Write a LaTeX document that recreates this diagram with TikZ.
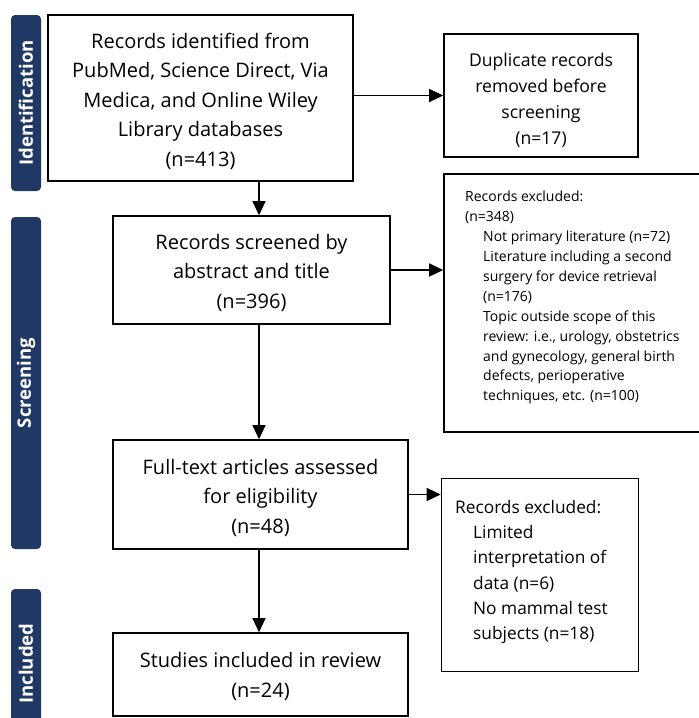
\documentclass[tikz,border=0pt]{standalone}
\usepackage{fontspec}
\setmainfont{Open Sans}
\usetikzlibrary{arrows.meta}
\definecolor{navy}{HTML}{1F3864}
\newcommand{\lowtext}[2]{\raisebox{-#1}[\height][\depth]{\begin{tabular}{@{}c@{}}#2\end{tabular}}}
\begin{document}
\begin{tikzpicture}[x=1pt,y=-1pt,
  box/.style={draw=black, line width=1.6pt, inner sep=0pt, align=center},
  bigfont/.style={font=\fontsize{20}{29.5}\selectfont},
  midfont/.style={font=\fontsize{17.6}{26}\selectfont},
  side/.style={fill=navy, rounded corners=4pt, inner sep=0pt, rotate=90, text=white,
     font=\bfseries\fontsize{18.5}{20}\selectfont},
  conn/.style={line width=1.2pt, -{Triangle[length=14pt,width=13pt]}},
]
\useasboundingbox (0,0) rectangle (699,718);
% side bars
\node[side, minimum width=176pt, minimum height=30pt] (sid1) at (26,103) {Identification};
\node[side, minimum width=332pt, minimum height=30pt] (sid2) at (26,383) {Screening};
\node[side, minimum width=149pt, minimum height=30pt] (sid3) at (26,663.5) {Included};
% main boxes
\node[box, bigfont, minimum width=305pt, minimum height=166pt] (b1) at (200.5,98)
  {\lowtext{3.5pt}{Records identified from\\PubMed, Science Direct, Via\\Medica, and Online Wiley\\Library databases\\(n=413)}};
\node[box, midfont, minimum width=194pt, minimum height=123pt] (dup) at (541,95.5)
  {\lowtext{5pt}{Duplicate records\\removed before\\screening\\(n=17)}};
\node[box, bigfont, minimum width=277pt, minimum height=108pt] (b2) at (251.5,270)
  {\lowtext{3pt}{Records screened by\\abstract and title\\(n=396)}};
\node[box, minimum width=257pt, minimum height=258pt] (big) at (572.5,303) {};
\node[inner sep=0pt, anchor=north west, align=left, font=\fontsize{14}{19.9}\selectfont] (bigtxt) at (465,191)
  {Records excluded:\\(n=348)\\
   \hspace*{18pt}Not primary literature (n=72)\\
   \hspace*{18pt}Literature including a second\\
   \hspace*{18pt}surgery for device retrieval\\
   \hspace*{18pt}(n=176)\\
   \hspace*{18pt}Topic outside scope of this\\
   \hspace*{18pt}review: i.e., urology, obstetrics\\
   \hspace*{18pt}and gynecology, general birth\\
   \hspace*{18pt}defects, perioperative\\
   \hspace*{18pt}techniques, etc. (n=100)};
\node[box, bigfont, minimum width=295pt, minimum height=109pt] (b3) at (260.5,494.5)
  {\lowtext{3.5pt}{Full-text articles assessed\\for eligibility\\(n=48)}};
\node[box, minimum width=197pt, minimum height=193pt] (ex2) at (540,575) {};
\node[inner sep=0pt, anchor=north west, align=left, font=\fontsize{17.3}{25.3}\selectfont] (ex2txt) at (455,500)
  {Records excluded:\\
   \hspace*{18pt}Limited\\
   \hspace*{18pt}interpretation of\\
   \hspace*{18pt}data (n=6)\\
   \hspace*{18pt}No mammal test\\
   \hspace*{18pt}subjects (n=18)};
\node[box, bigfont, minimum width=295pt, minimum height=83pt] (b4) at (260.5,674.5)
  {\lowtext{2pt}{Studies included in review\\(n=24)}};
% connectors
\coordinate (ax) at (259,0);
\draw[conn] (b1.south -| ax) -- (b2.north -| ax);
\draw[conn] (b2.south -| ax) -- (b3.north -| ax);
\draw[conn] (b3.south -| ax) -- (b4.north -| ax);
\draw[conn] (b1.east |- dup.west) -- (dup.west);
\draw[conn] (b2.east) -- (b2.east -| big.west);
\draw[conn] (b3.east) -- (b3.east -| ex2.west);
\end{tikzpicture}
\end{document}
